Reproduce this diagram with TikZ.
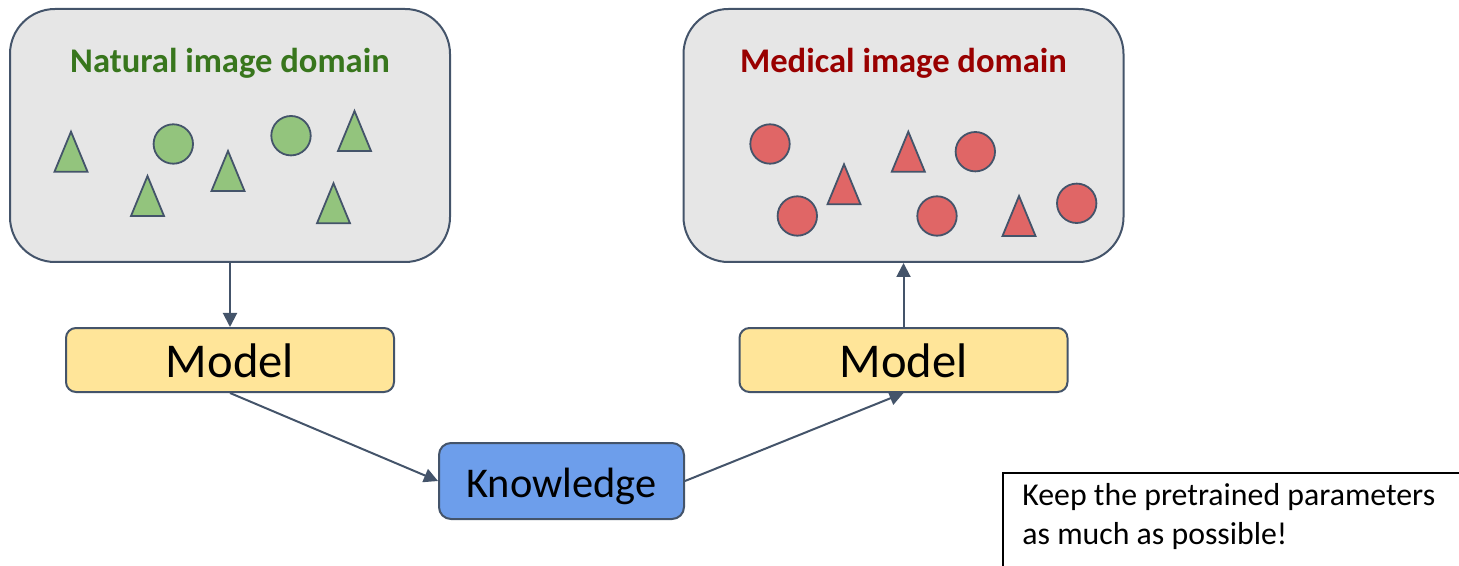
\documentclass[tikz,border=0pt]{standalone}
\usepackage{fontspec}
\setmainfont{Carlito}
\usetikzlibrary{arrows.meta}
\definecolor{edge}{HTML}{44546A}
\definecolor{panel}{HTML}{E6E6E6}
\definecolor{gfill}{HTML}{93C47D}
\definecolor{rfill}{HTML}{E06666}
\definecolor{gtext}{HTML}{38761D}
\definecolor{rtext}{HTML}{990000}
\definecolor{yfill}{HTML}{FFE599}
\definecolor{bfill}{HTML}{6D9EEB}
\tikzset{
  panelbox/.style={draw=edge, line width=1pt, fill=panel, rounded corners=22.5pt,
    minimum width=220pt, minimum height=126.5pt, inner sep=0pt},
  modelbox/.style={draw=edge, line width=1pt, fill=yfill, rounded corners=5pt,
    minimum width=164pt, minimum height=32pt, inner sep=0pt},
  knowbox/.style={draw=edge, line width=1pt, fill=bfill, rounded corners=6pt,
    minimum width=122.5pt, minimum height=38pt, inner sep=0pt},
  boxtext/.style={anchor=base, inner sep=0pt},
  title/.style={anchor=base, font=\fontsize{17.3}{20}\selectfont\bfseries, inner sep=0pt},
  conn/.style={draw=edge, line width=1pt, -{Triangle[width=7pt,length=7pt]}},
  gshape/.style={draw=edge, line width=0.9pt, fill=gfill},
  rshape/.style={draw=edge, line width=0.9pt, fill=rfill},
  notetext/.style={anchor=base west, inner sep=0pt, font=\fontsize{15.9}{19.5}\selectfont}
}
\newcommand{\tri}[3]{\draw[#1] (#2-16.5,#3+40) -- (#2,#3) -- (#2+16.5,#3+40) -- cycle;}
\begin{document}
\begin{tikzpicture}[x=0.5pt,y=-0.5pt]
\useasboundingbox (0,0) rectangle (1459,566);
\clip (0,0) rectangle (1459,566);
% panels
\node[panelbox] (nat) at (230,135.5) {};
\node[panelbox] (med) at (903.5,135.5) {};
\node[title, text=gtext] (natt) at (230,73) {Natural image domain};
\node[title, text=rtext] (medt) at (903.5,73) {Medical image domain};
% natural shapes
\tri{gshape}{71}{131.7}
\tri{gshape}{147.5}{176}
\tri{gshape}{228}{151}
\tri{gshape}{354.5}{111}
\tri{gshape}{333.5}{183.3}
\draw[gshape] (173.3,144) circle (19.7);
\draw[gshape] (291,135.7) circle (19.7);
% medical shapes
\draw[rshape] (770,144) circle (19.7);
\draw[rshape] (797.3,216) circle (19.7);
\draw[rshape] (975.3,151.7) circle (19.7);
\draw[rshape] (937,216) circle (19.7);
\draw[rshape] (1076.7,203.3) circle (19.7);
\tri{rshape}{844}{164.3}
\tri{rshape}{908.3}{131.7}
\tri{rshape}{1019}{196}
% models
\node[modelbox] (m1) at (230,360) {};
\node[modelbox] (m2) at (903.5,360) {};
\node[knowbox] (kn) at (561.5,481) {};
\node[boxtext, font=\fontsize{24.3}{28}\selectfont] (m1t) at (230,377) {Model};
\node[boxtext, font=\fontsize{24.3}{28}\selectfont] (m2t) at (903.5,377) {Model};
\node[boxtext, font=\fontsize{21.2}{26}\selectfont] (knt) at (561.5,497) {Knowledge};
% connectors
\draw[conn] (nat.south) -- (m1.north);
\draw[conn] (m1.south) -- (kn.west);
\draw[conn] (kn.east) -- (m2.south);
\draw[conn] (m2.north) -- (med.south);
% note
\node[draw=black, line width=1pt, fill=white, anchor=north west, minimum width=300pt,
  minimum height=80pt, inner sep=0pt] (note) at (1002,472) {};
\node[notetext] (l1) at (1022,505) {Keep the pretrained parameters};
\node[notetext] (l2) at (1022,544) {as much as possible!};
\end{tikzpicture}
\end{document}
